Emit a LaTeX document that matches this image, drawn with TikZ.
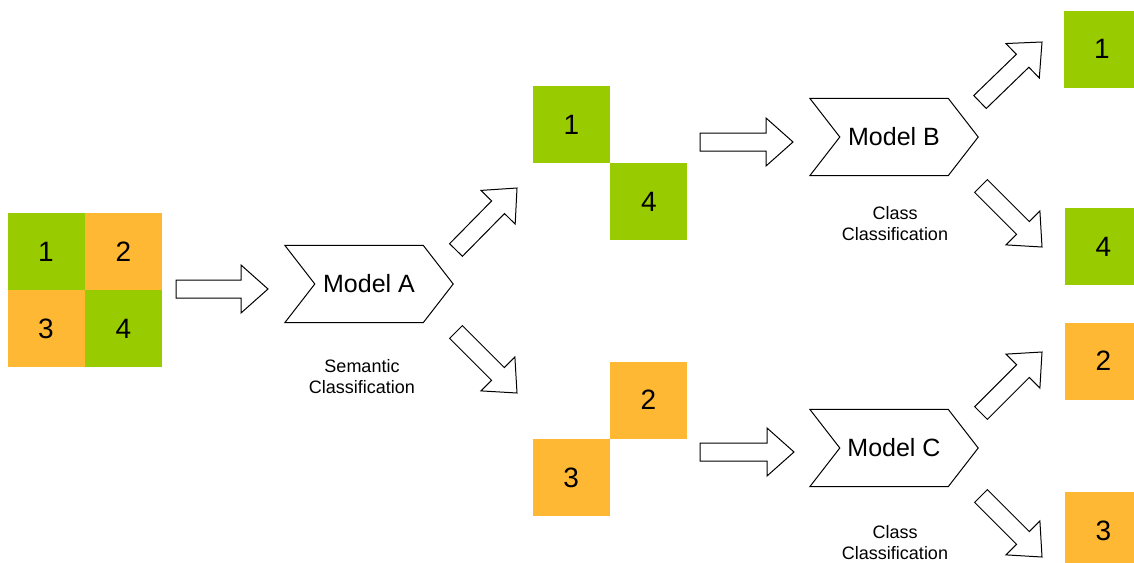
\documentclass[tikz,border=0pt]{standalone}
\usepackage{fontspec}
\setmainfont{Liberation Sans}
\usepackage{xcolor}
\usetikzlibrary{calc,positioning}

\definecolor{cellgreen}{HTML}{99CC00}
\definecolor{cellorange}{HTML}{FFB833}

\begin{document}
\begin{tikzpicture}[x=1pt,y=-1pt,
            node distance=0pt,
            cell/.style={shape=rectangle, minimum size=77pt, inner sep=0pt, font=\fontsize{28}{30}\selectfont},
            gcell/.style={cell, fill=cellgreen},
            ocell/.style={cell, fill=cellorange},
            model/.style={minimum width=168pt, minimum height=77pt, inner sep=0pt, font=\fontsize{25}{28}\selectfont},
            note/.style={align=center, font=\fontsize{18}{21}\selectfont},
            blockarrow/.style={draw, line width=1pt, fill=white, to path={
                ($(\tikztostart)!9pt!90:(\tikztotarget)$)
                -- ($(\tikztotarget)!27pt!(\tikztostart)!9pt!-90:(\tikztostart)$)
                -- ($(\tikztotarget)!27pt!(\tikztostart)!24pt!-90:(\tikztostart)$)
                -- (\tikztotarget)
                -- ($(\tikztotarget)!27pt!(\tikztostart)!24pt!90:(\tikztostart)$)
                -- ($(\tikztotarget)!27pt!(\tikztostart)!9pt!90:(\tikztostart)$)
                -- ($(\tikztostart)!9pt!-90:(\tikztotarget)$) -- cycle}}]
        \useasboundingbox (0,0) rectangle (1134,562);

        % input image
        \node[gcell] (g1) at (46,251.5) {1};
        \node[ocell, right=of g1] (g2) {2};
        \node[ocell, below=of g1] (g3) {3};
        \node[gcell, right=of g3] (g4) {4};

        % models
        \node[model] (mA) at (369,284) {Model A};
        \node[model] (mB) at (894,137) {Model B};
        \node[model] (mC) at (894,448) {Model C};
        \foreach \m in {mA,mB,mC}
            \draw[line width=1pt] (\m.north west) -- ($(\m.north east)+(-30,0)$) -- (\m.east)
                -- ($(\m.south east)+(-30,0)$) -- (\m.south west) -- ($(\m.west)+(30,0)$) -- cycle;

        \node[note] (nA) at (362,377) {Semantic\\Classification};
        \node[note] (nB) at (895,224) {Class\\Classification};
        \node[note] (nC) at (895,543) {Class\\Classification};

        % after semantic classification
        \node[gcell] (s1) at (571.5,124.5) {1};
        \node[gcell, below right=of s1] (s4) {4};
        \node[ocell] (s2) at (648.5,400) {2};
        \node[ocell, below left=of s2] (s3) {3};

        % after class classification
        \node[gcell] (c1) at (1102,49) {1};
        \node[gcell] (c4) at (1103.5,246.5) {4};
        \node[ocell] (c2) at (1103.5,361) {2};
        \node[ocell] (c3) at (1103.5,530.5) {3};

        % arrow ends
        \coordinate (a0s) at (176,289);  \coordinate (a0t) at (268,289);
        \coordinate (aA1s) at (456,250); \coordinate (aA1t) at (517,188);
        \coordinate (aA2s) at (456,332); \coordinate (aA2t) at (517,393);
        \coordinate (aBs) at (700,142);  \coordinate (aBt) at (793,142);
        \coordinate (aB1s) at (980,102); \coordinate (aB1t) at (1042,42);
        \coordinate (aB2s) at (981,186); \coordinate (aB2t) at (1042,247);
        \coordinate (aCs) at (700,452);  \coordinate (aCt) at (794,452);
        \coordinate (aC1s) at (981,413); \coordinate (aC1t) at (1042,352);
        \coordinate (aC2s) at (981,496); \coordinate (aC2t) at (1042,557);

        \foreach \a in {a0,aA1,aA2,aB,aB1,aB2,aC,aC1,aC2}
            \draw[blockarrow] (\a s) to (\a t);
    \end{tikzpicture}
\end{document}
